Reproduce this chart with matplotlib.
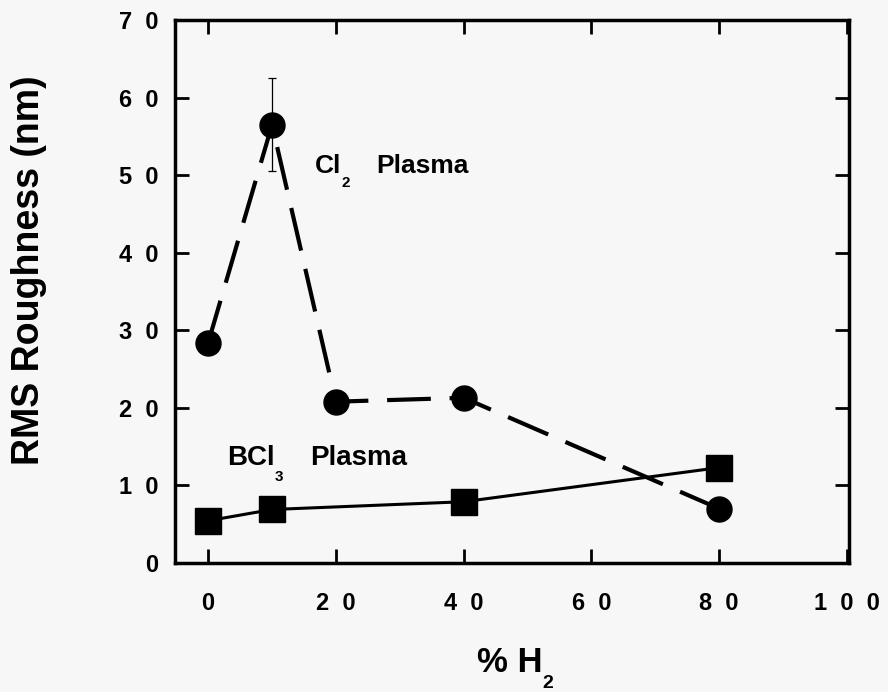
import matplotlib
matplotlib.use("Agg")
import matplotlib.pyplot as plt
import numpy as np

# --- DATA ---
h2_cl2 = [0, 10, 20, 40, 80]
rough_cl2 = [28.4, 56.5, 20.8, 21.3, 7.0]
err_cl2 = [0, 6.0, 0, 0, 0]

h2_bcl3 = [0, 10, 40, 80]
rough_bcl3 = [5.45, 6.9, 7.9, 12.3]

x_ticks = [0, 20, 40, 60, 80, 100]
x_tick_labels = ["0", "2  0", "4  0", "6  0", "8  0", "1  0  0"]
y_ticks = [0, 10, 20, 30, 40, 50, 60, 70]
y_tick_labels = ["0", "1  0", "2  0", "3  0", "4  0", "5  0", "6  0", "7  0"]

bg = "#f7f7f7"
plt.rcParams["font.family"] = ["Liberation Sans", "DejaVu Sans"]
plt.rcParams["font.weight"] = "bold"

fig = plt.figure(figsize=(8.88, 6.92), dpi=100, facecolor=bg)
ax = fig.add_axes([0.197, 0.1864, 0.759, 0.7846], facecolor=bg)

# Cl2 series: dashed line with circles
ax.plot(h2_cl2, rough_cl2, color="black", lw=3.0, dashes=(10.5, 4.5),
        marker="o", markersize=18, zorder=3)

# error bar only where one was measured
err = np.array(err_cl2)
mask = err > 0
ax.errorbar(np.array(h2_cl2)[mask], np.array(rough_cl2)[mask], yerr=err[mask],
            fmt="none", ecolor="black", elinewidth=0.9, capsize=3, capthick=0.9,
            zorder=2)

# BCl3 series: solid line with squares
ax.plot(h2_bcl3, rough_bcl3, color="black", lw=2.2, marker="s",
        markersize=19, zorder=3)

ax.set_xlim(-5.2, 100.3)
ax.set_ylim(0, 70)
ax.set_xticks(x_ticks)
ax.set_xticklabels(x_tick_labels)
ax.set_yticks(y_ticks)
ax.set_yticklabels(y_tick_labels)

for sp in ax.spines.values():
    sp.set_linewidth(2.5)

ax.tick_params(axis="both", which="major", direction="in", length=10,
               width=2, top=True, right=True, labelsize=17)
ax.tick_params(axis="x", pad=21)
ax.tick_params(axis="y", pad=12)


# --- annotations with dropped subscripts ---
def chem_label(x, y, main, sub, size):
    t = ax.text(x, y, main, fontsize=size, fontweight="bold", va="baseline")
    ax.annotate(sub, xy=(1, 0), xycoords=t, xytext=(0, 1),
                textcoords="offset points", fontsize=11, fontweight="bold",
                ha="left", va="top")
    ax.annotate("Plasma", xy=(1, 0), xycoords=t, xytext=(25, 0),
                textcoords="offset points", fontsize=size, fontweight="bold",
                ha="left", va="bottom")


chem_label(16.7, 50.3, "Cl", "2", 19)
chem_label(3.0, 12.6, "BCl", "3", 20)

# axis titles
xl = fig.text(510 / 888, 1 - 672 / 692, "% H", fontsize=25, fontweight="bold",
              ha="center", va="baseline")
ax.annotate("2", xy=(1, 0), xycoords=xl, xytext=(0, 3),
            textcoords="offset points", fontsize=14, fontweight="bold",
            ha="left", va="top", annotation_clip=False)

fig.text(29 / 888, 1 - 270 / 692, "RMS Roughness (nm)", fontsize=27,
         fontweight="bold", rotation=90, ha="center", va="center")

fig.savefig("out.png", dpi=100, facecolor=bg)
